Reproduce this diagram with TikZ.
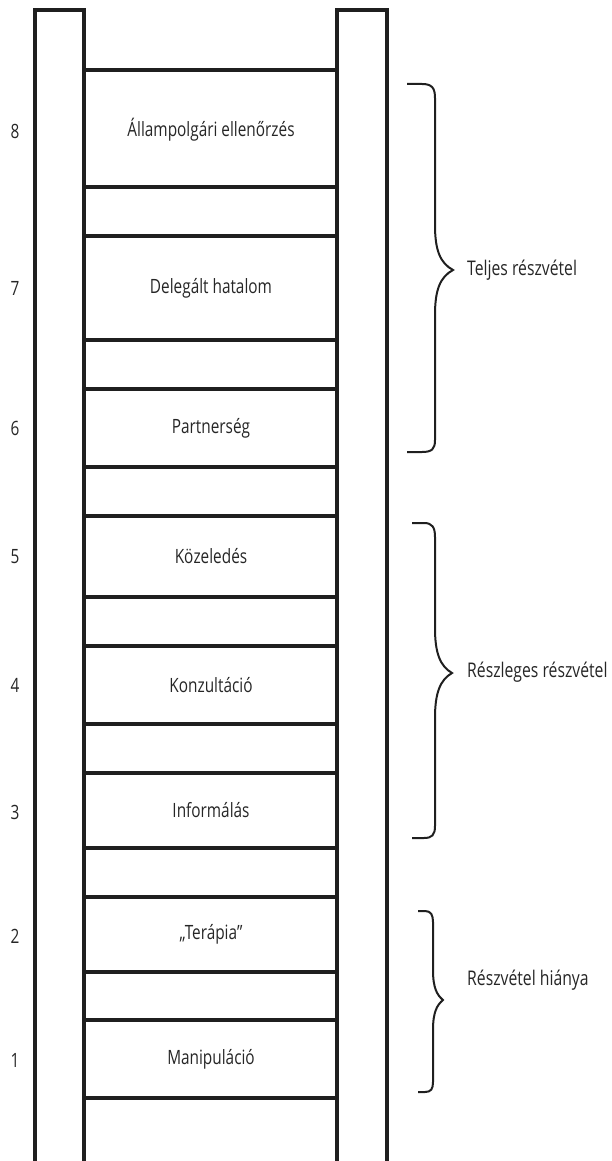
\documentclass[tikz,border=0pt]{standalone}
\usepackage{fontspec}
\setmainfont{Open Sans}[FakeStretch=0.78]
\begin{document}
\begin{tikzpicture}[x=1pt,y=-1pt,
  ln/.style={line width=3.2pt,color=black!88},
  br/.style={line width=2pt,color=black!88},
  lbl/.style={font=\fontsize{19.7}{22}\selectfont,text=black!85,inner sep=0pt},
  side/.style={font=\fontsize{20.2}{24}\selectfont,text=black!85,inner sep=0pt,anchor=west}]
\useasboundingbox (0,0) rectangle (612,1161);
% rails
\draw[ln] (35,1163) -- (35,10) -- (84,10) -- (84,1163);
\draw[ln] (337,1163) -- (337,10) -- (387,10) -- (387,1163);
% rungs
\foreach \y in {70,187,236,340,389,467,516,597,646,724,773,848,897,972,1020,1098}
  \draw[ln] (84,\y) -- (337,\y);
% box labels
\node[lbl] (b8) at (211,129.5) {Állampolgári ellenőrzés};
\node[lbl] (b7) at (211,288) {Delegált hatalom};
\node[lbl] (b6) at (211,428) {Partnerség};
\node[lbl] (b5) at (211,556.5) {Közeledés};
\node[lbl] (b4) at (211,685) {Konzultáció};
\node[lbl] (b3) at (211,810.5) {Informálás};
\node[lbl] (b2) at (211,934.5) {„Terápia”};
\node[lbl] (b1) at (211,1059) {Manipuláció};
% numbers
\node[lbl] (n8) at (15,131) {8};
\node[lbl] (n7) at (15,288) {7};
\node[lbl] (n6) at (15,428) {6};
\node[lbl] (n5) at (15,556.5) {5};
\node[lbl] (n4) at (15,685) {4};
\node[lbl] (n3) at (15,812) {3};
\node[lbl] (n2) at (15,936) {2};
\node[lbl] (n1) at (15,1060) {1};
% braces
\draw[br] (407,84) -- (422,84) .. controls (432,84) and (435,88) .. (435,98)
  -- (435,225) .. controls (435,250) and (440,263) .. (453,270)
  .. controls (440,277) and (435,290) .. (435,315)
  -- (435,440) .. controls (435,449) and (432,452) .. (422,452) -- (407,452);
\node[side] (t1) at (467,270) {Teljes részvétel};
\draw[br] (412,523) -- (424,523) .. controls (432,523) and (435,527) .. (435,537)
  -- (435,628) .. controls (435,653) and (440,666) .. (452,673)
  .. controls (440,680) and (435,693) .. (435,718)
  -- (435,826) .. controls (435,835) and (432,838) .. (424,838) -- (412,838);
\node[side] (t2) at (467,672) {Részleges részvétel};
\draw[br] (418,911) -- (425,911) .. controls (431,911) and (433,915) .. (433,922)
  -- (433,970) .. controls (433,988) and (437,995) .. (443,1000)
  .. controls (437,1005) and (433,1012) .. (433,1030)
  -- (433,1082) .. controls (433,1089) and (431,1092) .. (425,1092) -- (418,1092);
\node[side] (t3) at (467,980) {Részvétel hiánya};
\end{tikzpicture}
\end{document}
